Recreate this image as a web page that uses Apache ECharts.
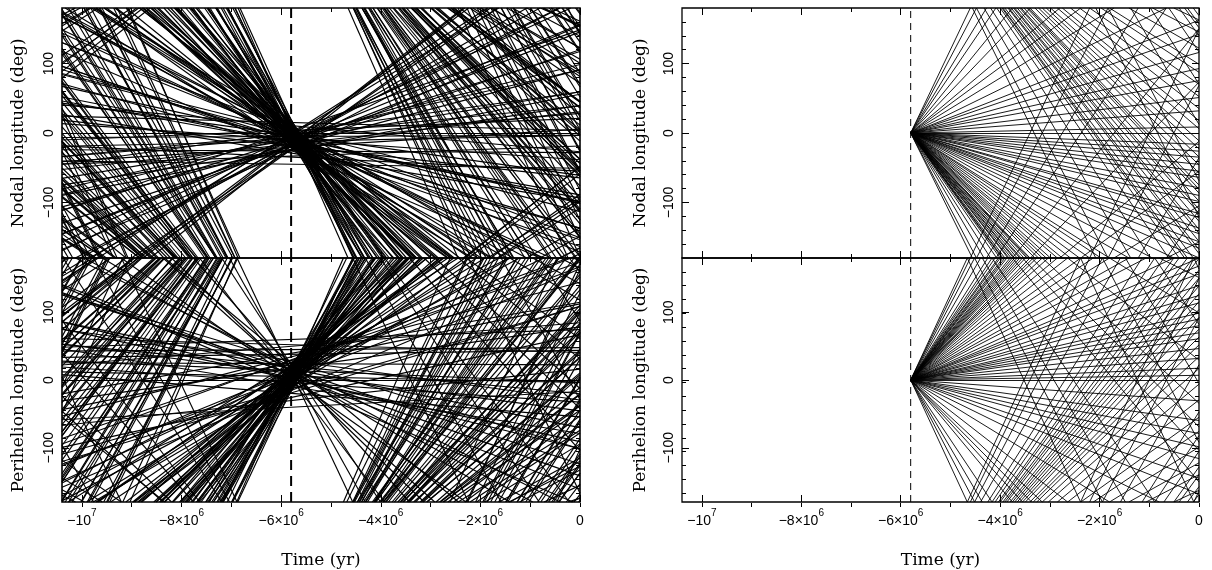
<!DOCTYPE html>
<html><head><meta charset="utf-8">
<script src="https://cdn.jsdelivr.net/npm/echarts@6/dist/echarts.min.js"></script>
<style>html,body{margin:0;padding:0;background:#fff}#c{width:1212px;height:570px}</style>
</head><body><div id="c"></div>
<script>
// ---------------- data ----------------
const T_MIN = -1.04e7, T_MAX = 0;   // time axis (yr)
const X_MAJOR = [-1e7, -8e6, -6e6, -4e6, -2e6, 0];
const X_MINOR = [-1e7, -9e6, -8e6, -7e6, -6e6, -5e6, -4e6, -3e6, -2e6, -1e6, 0];
const Y_MAJOR = [-100, 0, 100];
const Y_MINOR = [-160, -140, -120, -100, -80, -60, -40, -20, 0, 20, 40, 60, 80, 100, 120, 140, 160];
const EPOCH = -5.8e6;               // dashed line (yr)

// Left column: drift rate (deg/Myr) of each clone and its angle (deg) at the convergence time
const NODAL_L_TREF = -5.7;          // Myr
const NODAL_L_RATE = [0, 0.3, -0.4,
  -148, -141, -137, -133, -129, -126, -121, -118, -114, -111,
  -107, -104, -101, -97, -95, -92, -89, -86, -84, -81,
  -78, -76, -73, -71, -68, -66, -63, -61, -58, -56,
  -53, -51, -48, -46, -43, -41, -39, -36, -34, -31,
  -29, -27, -24, -22, -20, -18, -16, -14, -12, -10,
  -8, -6.5, -5, -3.5, -2, -1,
  1.5, 3, 4.5, 6, 8, 10, 12, 14, 16.5, 19,
  22, 25, 28, 31, 35, 39, 44, 49, 54, 57,
  33, 37, 41, 46, 51, 56,
  -152, -158, -163, -93, -87, -79, -74, -69, -64, -59,
  -54, -49, -44, -38, -33,
  -45, -52, -57, -62, -67, -72, -77, -83, -88, -96,
  -103, -109, -116, -124, -131, -139, -25, -19, -13, 2.5,
  7, 11, 18, 24, 29];
const NODAL_L_PHASE = [0, -5, -26,
  -2, -15, 6, -20, -9, 3, -13, -24, -4, -17,
  8, -11, -1, -21, -7, -14, 2, -19, -6, -12,
  -27, -3, 5, -16, -10, -22, 0, -8, -18, 4,
  -13, -25, -5, -9, 7, -20, -15, -2, -11, -28,
  -6, 3, -17, -12, -23, 1, -8, -14, -30, -4,
  -19, 10, -10, -35, 15, -45,
  -12, 4, -20, -6, -15, 2, -9, -24, -3, -17,
  -8, 6, -14, -22, -5, -11, 1, -18, -7, -13,
  -2, -16, -10, 3, -19, -8,
  -6, 2, -10, -16, 5, -12, -1, -20, -7, 3,
  -15, -9, -24, -4, -11,
  -3, -18, 1, -11, -22, -6, -14, 4, -9, -19,
  -2, -12, -7, -16, 0, -10, -21, -5, -15, -33,
  -1, -23, -4, -17, -9];

const PERI_L_TREF = -5.75;          // Myr
const PERI_L_RATE = [0, -0.3, 0.5,
  168, 156, 150, 147, 139, 135, 132, 126, 121, 118,
  116, 112, 108, 104, 102, 100, 97, 94, 91, 89,
  88, 85, 82, 79, 77, 76, 73, 70, 67, 66,
  64, 61, 58, 57, 55, 52, 49, 48, 46, 43,
  40, 39, 37, 34, 31, 30, 28, 25, 22, 19,
  16, 13, 10.5, 8, 6, 4, 2.5, 1,
  -1.5, -3, -5, -7, -9.5, -12, -15, -18, -22, -26,
  -31, -37, -44, -52, -61, -71, -83, -97, -113, -132, -155,
  60, 71, 81, 92, 98, 110, 124, 143, -40, -66,
  45, 51, 56, 62, 68, 74, 79, 84, 90, 95,
  101, 107, 114, 120, 129, 137, 27, 21, 15, -2,
  -6, -10, -16, -24, -29];
const PERI_L_PHASE = [0, 24, 45,
  12, -5, 20, 3, -10, 15, 7, -2, 25, 10,
  -8, 18, 4, 13, -4, 22, 9, 1, 16, -12,
  6, 27, -1, 11, 19, -6, 14, 2, 8, 21,
  -3, 17, 5, 12, -9, 24, 0, 10, 28, -7,
  15, 3, 20, 9, -14, 13, 6, 30, -18, 35,
  -25, 40, 18, -30, 50, -40, 60, 38,
  5, 14, -4, 20, 9, -10, 16, 2, 25, 8,
  -6, 18, 11, 0, 22, 6, 13, -3, 17, 10, 4,
  4, 16, -6, 9, 19, 1, 11, -3, 12, 7,
  7, 22, 0, 14, 3, 18, -4, 10, 25, 5,
  13, -8, 20, 2, 9, 16, 31, -12, 26, 52,
  -20, 28, 1, 14, 6];

// Right column: every clone starts at 0 deg at the epoch; drift rates (deg/Myr)
const NODAL_R_RATE = [0,
  -145, -136, -122, -112, -104, -100, -98, -97, -95, -92,
  -91, -89, -87, -86, -84, -82, -81, -79, -77, -76,
  -75, -72, -70, -68, -66, -64, -61, -59, -56, -53,
  -50, -47, -45, -41, -37, -34, -31, -28.6, -27, -25,
  -23.6, -21, -20, -17, -15.5, -13.6, -11, -9.5, -7.8, -6,
  -4.5, -2.8, 1.5, 5.5, 8.8, 13, 16, 20, 24.5, 28,
  35, 44, 52.6, 60, 74.7, 88, 105, 118, 136, 150];
const PERI_R_RATE = [0,
  158, 150, 140, 128, 116, 110, 106, 102, 100, 97,
  95, 93, 90, 88, 86, 84, 82, 80, 78, 75,
  73, 71, 68, 65, 61, 57, 52.6, 49, 45, 41,
  38, 34, 31, 29, 27, 24, 21.5, 19.6, 17, 15.5,
  13.8, 12, 10.5, 8, 5.5, 3, 1.2,
  -5.3, -10.3, -13.6, -17, -20, -25, -29, -36, -45, -57,
  -68, -74, -80, -88, -110, -125, -140, -158];

// ---------------- wrapped segments ----------------
function wrap(a) { return ((a + 180) % 360 + 360) % 360 - 180; }
function segments(rate, phase, tRef, tStart, tEnd) { // times in Myr
  let t = tStart, a = wrap(phase + rate * (tStart - tRef));
  const out = [];
  let guard = 0;
  while (t < tEnd - 1e-9 && guard++ < 100) {
    if (rate === 0) { out.push([[t, a], [tEnd, a]]); break; }
    const bound = rate > 0 ? 180 : -180;
    const dt = (bound - a) / rate;
    if (t + dt >= tEnd) { out.push([[t, a], [tEnd, a + rate * (tEnd - t)]]); break; }
    out.push([[t, a], [t + dt, bound]]);
    t += dt; a = -bound;
  }
  return out.map(s => ({ coords: s.map(p => [p[0] * 1e6, p[1]]) }));
}
function panelData(rates, phases, tRef, tStart) {
  let d = [];
  rates.forEach((r, i) => { d = d.concat(segments(r, phases ? phases[i] : 0, tRef, tStart, T_MAX / 1e6)); });
  return d;
}

// ---------------- layout ----------------
const PANELS = [
  { rect: { left: 62, top: 8, width: 518, height: 250 }, name: 'Nodal longitude (deg)', bottom: false,
    data: panelData(NODAL_L_RATE, NODAL_L_PHASE, NODAL_L_TREF, T_MIN / 1e6), lw: 1.15, dash: { w: 2, d: [10, 6] }, bw: 1.6, nameGap: 35 },
  { rect: { left: 62, top: 258, width: 518, height: 249 }, name: 'Perihelion longitude (deg)', bottom: true,
    data: panelData(PERI_L_RATE, PERI_L_PHASE, PERI_L_TREF, T_MIN / 1e6), lw: 1.15, dash: { w: 2, d: [10, 6] }, bw: 1.6, nameGap: 35 },
  { rect: { left: 682, top: 8, width: 517, height: 250 }, name: 'Nodal longitude (deg)', bottom: false,
    data: panelData(NODAL_R_RATE, null, EPOCH / 1e6, EPOCH / 1e6), lw: 0.9, dash: { w: 1, d: [7, 5] }, bw: 1.3, nameGap: 33 },
  { rect: { left: 682, top: 258, width: 517, height: 249 }, name: 'Perihelion longitude (deg)', bottom: true,
    data: panelData(PERI_R_RATE, null, EPOCH / 1e6, EPOCH / 1e6), lw: 0.9, dash: { w: 1, d: [7, 5] }, bw: 1.3, nameGap: 33 }
];

const SANS = 'Liberation Sans';
const SERIF = 'DejaVu Serif';
function fmtX(v) {
  if (v === 0) return '{b|0}';
  if (v === -1e7) return '{b|−10}{s|7}';
  return '{b|−' + Math.round(-v / 1e6) + '×10}{s|6}';
}
const RICH = {
  b: { fontSize: 14, fontFamily: SANS, color: '#000', lineHeight: 20, verticalAlign: 'bottom' },
  s: { fontSize: 10, fontFamily: SANS, color: '#000', lineHeight: 20, verticalAlign: 'top' }
};
const tickStyle = { color: '#000', width: 1 };

const grid = [], xAxis = [], yAxis = [], series = [];
PANELS.forEach((p, i) => {
  grid.push(Object.assign({ show: true, borderColor: '#000', borderWidth: p.bw, backgroundColor: 'transparent' }, p.rect));
  grid.push(Object.assign({ show: false }, p.rect));
  const gMain = 2 * i, gMinor = 2 * i + 1;
  const baseX = { type: 'value', min: T_MIN, max: T_MAX, axisLine: { show: false, onZero: false }, splitLine: { show: false } };
  const baseY = { type: 'value', min: -180, max: 180, axisLine: { show: false, onZero: false }, splitLine: { show: false } };
  xAxis.push(Object.assign({}, baseX, {
    gridIndex: gMain, position: 'bottom',
    axisTick: { show: true, inside: true, length: 7, customValues: X_MAJOR, lineStyle: tickStyle },
    axisLabel: p.bottom ? { show: true, customValues: X_MAJOR, formatter: fmtX, rich: RICH, margin: 6 } : { show: false },
    name: p.bottom ? 'Time (yr)' : '', nameLocation: 'middle', nameGap: 50,
    nameTextStyle: { fontFamily: SERIF, fontSize: 17, color: '#000' }
  }));
  xAxis.push(Object.assign({}, baseX, { gridIndex: gMain, position: 'top',
    axisTick: { show: true, inside: true, length: 7, customValues: X_MAJOR, lineStyle: tickStyle }, axisLabel: { show: false } }));
  xAxis.push(Object.assign({}, baseX, { gridIndex: gMinor, position: 'bottom',
    axisTick: { show: true, inside: true, length: 4, customValues: X_MINOR, lineStyle: tickStyle }, axisLabel: { show: false } }));
  xAxis.push(Object.assign({}, baseX, { gridIndex: gMinor, position: 'top',
    axisTick: { show: true, inside: true, length: 4, customValues: X_MINOR, lineStyle: tickStyle }, axisLabel: { show: false } }));
  yAxis.push(Object.assign({}, baseY, {
    gridIndex: gMain, position: 'left',
    axisTick: { show: true, inside: true, length: 7, customValues: Y_MAJOR, lineStyle: tickStyle },
    axisLabel: { show: true, customValues: Y_MAJOR, rotate: 90, margin: 6, fontSize: 14, fontFamily: SANS, color: '#000',
      formatter: v => (v < 0 ? '−' + (-v) : String(v)) },
    name: p.name, nameLocation: 'middle', nameRotate: 90, nameGap: p.nameGap,
    nameTextStyle: { fontFamily: SERIF, fontSize: 17, color: '#000' }
  }));
  yAxis.push(Object.assign({}, baseY, { gridIndex: gMain, position: 'right',
    axisTick: { show: true, inside: true, length: 7, customValues: Y_MAJOR, lineStyle: tickStyle }, axisLabel: { show: false } }));
  yAxis.push(Object.assign({}, baseY, { gridIndex: gMinor, position: 'left',
    axisTick: { show: true, inside: true, length: 4, customValues: Y_MINOR, lineStyle: tickStyle }, axisLabel: { show: false } }));
  yAxis.push(Object.assign({}, baseY, { gridIndex: gMinor, position: 'right',
    axisTick: { show: true, inside: true, length: 4, customValues: Y_MINOR, lineStyle: tickStyle }, axisLabel: { show: false } }));

  series.push({
    type: 'lines', coordinateSystem: 'cartesian2d', xAxisIndex: 4 * i, yAxisIndex: 4 * i,
    data: p.data, silent: true, animation: false,
    lineStyle: { color: '#000', width: p.lw, opacity: 1 }
  });
  series.push({
    type: 'line', xAxisIndex: 4 * i, yAxisIndex: 4 * i, symbol: 'none', silent: true, animation: false,
    data: [[EPOCH, -180], [EPOCH, 180]],
    lineStyle: { color: '#000', width: p.dash.w, type: p.dash.d }
  });
});

const chart = echarts.init(document.getElementById('c'), null, { renderer: 'canvas' });
chart.setOption({ animation: false, backgroundColor: '#fff', grid, xAxis, yAxis, series });
</script>
</body></html>
